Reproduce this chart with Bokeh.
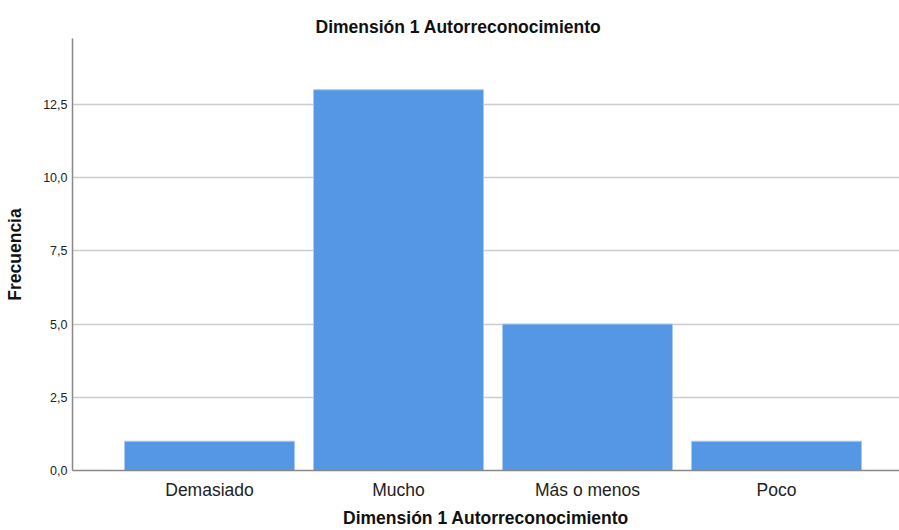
from bokeh.plotting import figure
from bokeh.models import Range1d, FixedTicker, Title
from bokeh.embed import file_html
from bokeh.resources import INLINE

categories = ["Demasiado", "Mucho", "Más o menos", "Poco"]
frecuencia = [1, 13, 5, 1]
y_ticks = [0, 2.5, 5, 7.5, 10, 12.5]
y_tick_labels = ["0,0", "2,5", "5,0", "7,5", "10,0", "12,5"]
title_text = "Dimensión 1 Autorreconocimiento"
x_label = "Dimensión 1 Autorreconocimiento"
y_label = "Frecuencia"

FONT = "Liberation Sans"
x_pos = list(range(len(categories)))

p = figure(width=899, height=530, output_backend="svg", toolbar_location=None,
           x_range=Range1d(-0.725, 3.651), y_range=Range1d(0, 14.75),
           min_border_left=72, min_border_right=0, min_border_top=38,
           min_border_bottom=60)
p.title = Title(text=title_text, align="left", text_font=FONT,
                text_font_size="17.5px", text_font_style="bold",
                text_color="#111111", offset=243, standoff=4)

p.vbar(x=x_pos, top=frecuencia, width=0.9, bottom=0,
       fill_color="#5596e5", line_color="#a9c9f2", line_width=1)

p.outline_line_color = None
p.xgrid.grid_line_color = None
p.ygrid.grid_line_color = "#cccccc"
p.ygrid.grid_line_width = 1.5
p.ygrid.ticker = FixedTicker(ticks=y_ticks)

ya = p.yaxis[0]
ya.ticker = FixedTicker(ticks=y_ticks)
ya.major_label_overrides = {t: l for t, l in zip(y_ticks, y_tick_labels)}
ya.major_tick_line_color = None
ya.major_tick_out = 0
ya.major_tick_in = 0
ya.minor_tick_line_color = None
ya.minor_tick_out = 0
ya.major_label_standoff = 5
ya.major_label_text_font = FONT
ya.major_label_text_font_size = "12.5px"
ya.major_label_text_color = "#222222"
ya.axis_line_color = "#888888"
ya.axis_line_width = 1.5
ya.axis_label = y_label
ya.axis_label_text_font = FONT
ya.axis_label_text_font_size = "17.5px"
ya.axis_label_text_font_style = "bold"
ya.axis_label_text_color = "#111111"
ya.axis_label_standoff = 15

xa = p.xaxis[0]
xa.ticker = FixedTicker(ticks=x_pos)
xa.major_label_overrides = {i: c for i, c in zip(x_pos, categories)}
xa.major_tick_line_color = None
xa.major_tick_out = 0
xa.major_tick_in = 0
xa.minor_tick_line_color = None
xa.minor_tick_out = 0
xa.major_label_standoff = 9
xa.major_label_text_font = FONT
xa.major_label_text_font_size = "17.5px"
xa.major_label_text_color = "#222222"
xa.axis_line_color = "#888888"
xa.axis_line_width = 1.5
xa.axis_label = x_label
xa.axis_label_text_font = FONT
xa.axis_label_text_font_size = "17.5px"
xa.axis_label_text_font_style = "bold"
xa.axis_label_text_color = "#111111"
xa.axis_label_standoff = 5

open("out.html", "w").write(file_html(p, INLINE))
